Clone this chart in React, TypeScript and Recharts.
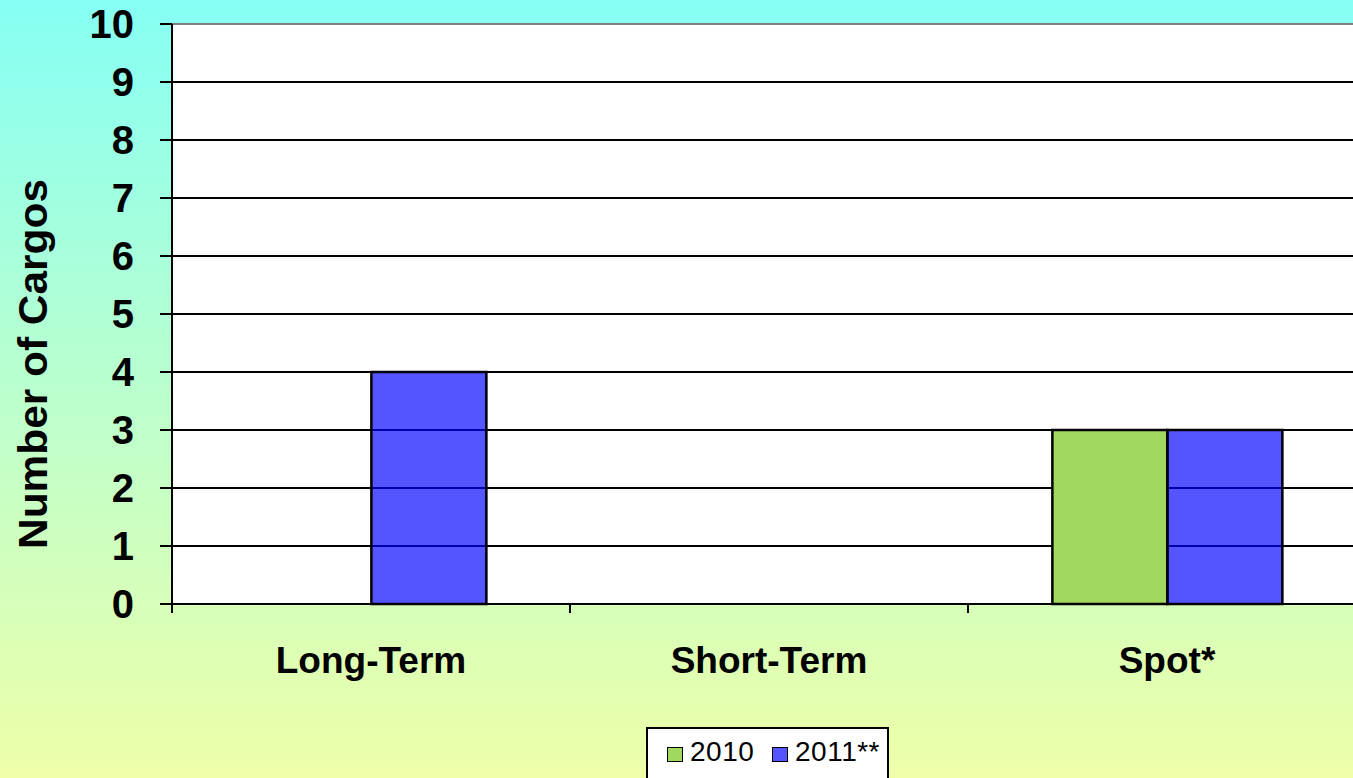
import React from 'react';
import {
  BarChart,
  Bar,
  XAxis,
  YAxis,
  CartesianGrid,
  Legend,
  ReferenceLine,
} from 'recharts';

const categories = ['Long-Term', 'Short-Term', 'Spot*'];
const values2010 = [0, 0, 3];
const values2011 = [4, 0, 3];
const yTicks = [0, 1, 2, 3, 4, 5, 6, 7, 8, 9, 10];

const data = categories.map((name, i) => ({
  name,
  y2010: values2010[i],
  y2011: values2011[i],
}));

const FONT = '"Liberation Sans", Arial, sans-serif';
const CHART_W = 1400;
const CHART_H = 800;
const MARGIN = { top: 24, right: 34, left: 0, bottom: 96 };
const Y_W = 172;
const BAND = (CHART_W - MARGIN.left - MARGIN.right - Y_W) / categories.length;

const XTick = (props: any) => {
  const { x, y, payload, index } = props;
  return (
    <g>
      <line x1={x - BAND / 2} x2={x - BAND / 2} y1={y} y2={y + 9} stroke="#000" strokeWidth={2} />
      {index === categories.length - 1 && (
        <line x1={x + BAND / 2} x2={x + BAND / 2} y1={y} y2={y + 9} stroke="#000" strokeWidth={2} />
      )}
      <text x={x} y={y + 69} textAnchor="middle" fontFamily={FONT} fontWeight="bold" fontSize={37} fill="#000">
        {payload.value}
      </text>
    </g>
  );
};

const LegendBox = () => (
  <div
    style={{
      position: 'relative',
      width: 243,
      height: 60,
      background: '#fff',
      border: '2px solid #000',
      boxSizing: 'border-box',
      fontFamily: FONT,
      fontSize: 28,
      color: '#000',
    }}
  >
    {[
      { label: '2010', color: '#A0D860', left: 19, textLeft: 42 },
      { label: '2011**', color: '#5555FF', left: 124, textLeft: 147 },
    ].map((item) => (
      <React.Fragment key={item.label}>
        <div
          style={{
            position: 'absolute',
            left: item.left,
            top: 18,
            width: 16,
            height: 15,
            background: item.color,
            border: '1.5px solid #000',
            boxSizing: 'border-box',
          }}
        />
        <div style={{ position: 'absolute', left: item.textLeft, top: 7, lineHeight: '32px', letterSpacing: 0.5 }}>
          {item.label}
        </div>
      </React.Fragment>
    ))}
  </div>
);

export default function App() {
  return (
    <div
      style={{
        position: 'fixed',
        left: 0,
        top: 0,
        width: 1353,
        height: 778,
        overflow: 'hidden',
        background: 'linear-gradient(to bottom, #86FFF4, #EEFFA8)',
      }}
    >
      <BarChart
        width={CHART_W}
        height={CHART_H}
        data={data}
        margin={MARGIN}
        barCategoryGap="21.2%"
        barGap={0}
      >
        <CartesianGrid horizontal vertical={false} stroke="#000" strokeWidth={2} fill="#fff" fillOpacity={1} />
        <ReferenceLine y={10} stroke="#808080" strokeWidth={2} />
        <XAxis
          dataKey="name"
          height={100}
          tickSize={0}
          tickMargin={0}
          tickLine={false}
          axisLine={{ stroke: '#000', strokeWidth: 2 }}
          tick={<XTick />}
          interval={0}
        />
        <YAxis
          width={Y_W}
          domain={[0, 10]}
          ticks={yTicks}
          interval={0}
          tickSize={12}
          tickMargin={26}
          tickLine={{ stroke: '#000', strokeWidth: 2 }}
          axisLine={{ stroke: '#000', strokeWidth: 2 }}
          tick={{ fontFamily: FONT, fontWeight: 'bold', fontSize: 40, fill: '#000' }}
          label={{
            content: () => (
              <text
                x={47}
                y={364}
                transform="rotate(-90 47 364)"
                textAnchor="middle"
                fontFamily={FONT}
                fontWeight="bold"
                fontSize={41}
                textLength={370}
                lengthAdjust="spacingAndGlyphs"
                fill="#000"
              >
                Number of Cargos
              </text>
            ),
          }}
        />
        <Legend
          layout="horizontal"
          verticalAlign="middle"
          align="center"
          width={243}
          height={60}
          wrapperStyle={{ left: 646, top: 727, width: 243, height: 60 }}
          content={() => <LegendBox />}
        />
        <Bar dataKey="y2010" name="2010" fill="#A0D860" stroke="#000" strokeWidth={2.5} isAnimationActive={false} />
        <Bar
          dataKey="y2011"
          name="2011**"
          fill="#0000FF"
          fillOpacity={0.667}
          stroke="#000"
          strokeWidth={2.5}
          isAnimationActive={false}
        />
      </BarChart>
    </div>
  );
}
